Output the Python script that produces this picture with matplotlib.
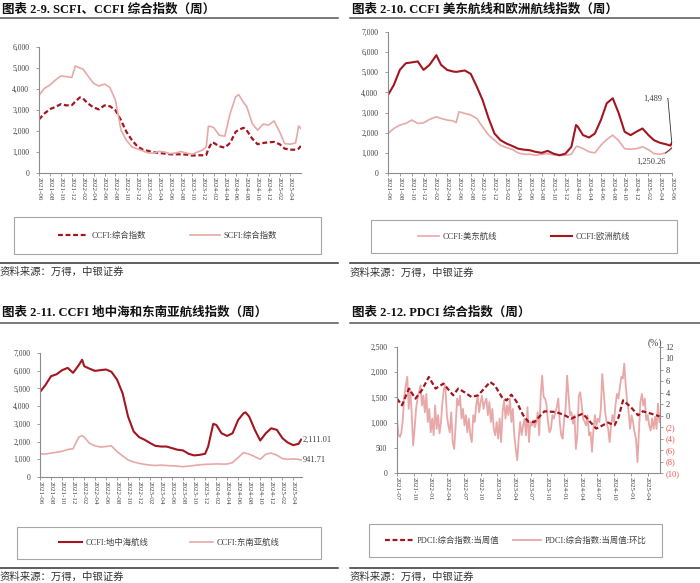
import matplotlib
matplotlib.use('Agg')
import matplotlib.pyplot as plt
import matplotlib.dates as mdates
from matplotlib.lines import Line2D
from matplotlib.patches import Rectangle
from matplotlib.ticker import FuncFormatter, MultipleLocator
import pandas as pd

# ---------------- data ----------------
# 2-9 SCFI / CCFI composite
p1_dates = ['2021-06-01', '2021-07-01', '2021-08-01', '2021-09-01', '2021-10-01', '2021-11-01',
            '2021-12-01', '2021-12-20', '2022-01-15', '2022-02-01', '2022-03-01', '2022-04-01',
            '2022-05-01', '2022-06-01', '2022-07-01', '2022-08-01', '2022-09-01', '2022-10-01',
            '2022-11-01', '2022-12-01', '2023-01-01', '2023-02-01', '2023-03-01', '2023-04-01',
            '2023-05-01', '2023-06-01', '2023-07-01', '2023-08-01', '2023-09-01', '2023-10-01',
            '2023-11-01', '2023-12-01', '2023-12-20', '2024-01-01', '2024-01-20', '2024-02-01',
            '2024-03-01', '2024-04-01', '2024-05-01', '2024-06-01', '2024-06-18', '2024-07-15',
            '2024-08-01', '2024-09-01', '2024-10-01', '2024-11-01', '2024-12-01', '2025-01-01',
            '2025-02-01', '2025-03-01', '2025-04-01', '2025-05-01', '2025-05-18', '2025-05-30']
p1_scfi = [3700, 4030, 4190, 4430, 4620, 4590, 4550, 5100, 5000, 4950, 4620, 4270,
           4140, 4235, 4075, 3470, 2040, 1560, 1240, 1150, 1050, 955, 950, 1030,
           1000, 920, 950, 1020, 950, 890, 1000, 1100, 1250, 2230, 2200, 2150,
           1800, 1750, 2830, 3630, 3730, 3350, 3180, 2360, 2040, 2330, 2280, 2480,
           1960, 1400, 1370, 1430, 2240, 2120]
p1_ccfi = [2550, 2830, 3040, 3150, 3280, 3220, 3230, 3400, 3600, 3550, 3310, 3120,
           3030, 3220, 3180, 2990, 2510, 1960, 1560, 1270, 1110, 1050, 990, 955,
           925, 890, 890, 890, 875, 830, 845, 845, 860, 1150, 1450, 1430,
           1270, 1210, 1430, 1960, 2060, 2150, 2040, 1640, 1370, 1430, 1460, 1480,
           1370, 1160, 1110, 1110, 1160, 1290]

# 2-10 CCFI US East coast / Europe
p2_dates = ['2021-06-01', '2021-07-01', '2021-08-01', '2021-09-01', '2021-10-01', '2021-11-01',
            '2021-12-01', '2022-01-01', '2022-02-05', '2022-03-01', '2022-04-01', '2022-05-01',
            '2022-05-18', '2022-06-01', '2022-07-01', '2022-08-01', '2022-09-01', '2022-10-01',
            '2022-11-01', '2022-12-01', '2023-01-01', '2023-02-01', '2023-03-01', '2023-04-01',
            '2023-05-01', '2023-06-01', '2023-07-01', '2023-08-01', '2023-09-01', '2023-10-01',
            '2023-11-01', '2023-12-01', '2024-01-01', '2024-01-25', '2024-02-01', '2024-03-01',
            '2024-04-01', '2024-05-01', '2024-06-01', '2024-07-01', '2024-08-01', '2024-09-01',
            '2024-10-01', '2024-11-01', '2024-12-01', '2025-01-01', '2025-02-01', '2025-03-01',
            '2025-04-01', '2025-05-01', '2025-05-25', '2025-06-01']
p2_europe = [3870, 4370, 5120, 5450, 5490, 5540, 5120, 5370, 5850, 5370, 5120, 5040,
             5020, 5040, 5090, 4920, 4290, 3620, 2710, 1960, 1630, 1460, 1350, 1210,
             1160, 1130, 1050, 1000, 1100, 960, 880, 960, 1300, 2380, 2330, 1880,
             1760, 1960, 2630, 3460, 3710, 2960, 2050, 1880, 2050, 2210, 1880, 1630,
             1500, 1430, 1360, 1489]
p2_useast = [1960, 2210, 2380, 2460, 2630, 2460, 2490, 2660, 2790, 2710, 2630, 2590,
             2500, 3040, 2960, 2880, 2710, 2290, 1880, 1630, 1380, 1260, 1180, 1000,
             930, 930, 880, 930, 960, 900, 880, 880, 930, 1300, 1330, 1210,
             1050, 1000, 1380, 1660, 1880, 1600, 1210, 1180, 1210, 1300, 1160, 960,
             930, 1000, 1150, 1250.26]

# 2-11 CCFI Mediterranean / South-East Asia
p3_dates = ['2021-06-01', '2021-07-01', '2021-08-01', '2021-09-01', '2021-10-01', '2021-11-01',
            '2021-12-01', '2022-01-01', '2022-01-20', '2022-02-01', '2022-03-01', '2022-04-01',
            '2022-05-01', '2022-06-01', '2022-07-01', '2022-08-01', '2022-09-01', '2022-10-01',
            '2022-11-01', '2022-12-01', '2023-01-01', '2023-02-01', '2023-03-01', '2023-04-01',
            '2023-05-01', '2023-06-01', '2023-07-01', '2023-08-01', '2023-09-01', '2023-10-01',
            '2023-11-01', '2023-12-01', '2023-12-18', '2024-01-15', '2024-02-01', '2024-03-01',
            '2024-04-01', '2024-05-01', '2024-06-01', '2024-07-01', '2024-07-12', '2024-08-01',
            '2024-09-01', '2024-10-01', '2024-11-01', '2024-12-01', '2025-01-01', '2025-02-01',
            '2025-03-01', '2025-04-01', '2025-05-01', '2025-05-15']
p3_med = [4800, 5190, 5690, 5800, 6030, 6160, 5880, 6310, 6620, 6250, 6120, 5990,
          6030, 6070, 5940, 5500, 4720, 3410, 2570, 2250, 2100, 1910, 1760, 1720,
          1720, 1630, 1540, 1500, 1310, 1220, 1250, 1310, 1720, 3000, 2940, 2470,
          2320, 2470, 3220, 3600, 3650, 3410, 2660, 2060, 2470, 2750, 2660, 2190,
          1950, 1800, 1870, 2111.01]
p3_sea = [1300, 1300, 1350, 1400, 1450, 1550, 1600, 2250, 2330, 2250, 1910, 1760,
          1690, 1720, 1760, 1440, 1190, 960, 850, 770, 710, 670, 650, 670,
          650, 630, 615, 580, 615, 650, 690, 710, 720, 730, 740, 730,
          730, 810, 1100, 1380, 1350, 1290, 1150, 1000, 1290, 1350, 1230, 1040,
          1000, 1020, 1000, 941.71]

# 2-12 PDCI composite (left) and its week-on-week change in % (right)
p4_dates = ['2021-07-01', '2021-07-28', '2021-09-04', '2021-10-10', '2021-11-15', '2021-12-22',
            '2022-01-28', '2022-03-12', '2022-05-04', '2022-06-01', '2022-07-06', '2022-08-12',
            '2022-09-18', '2022-11-22', '2022-12-18', '2023-01-25', '2023-02-20', '2023-03-18',
            '2023-04-15', '2023-05-22', '2023-06-18', '2023-07-22', '2023-09-15', '2023-11-18',
            '2024-01-01', '2024-02-08', '2024-04-12', '2024-06-24', '2024-08-28', '2024-10-02',
            '2024-10-24', '2024-11-18', '2024-12-30', '2025-02-08', '2025-03-06', '2025-04-20',
            '2025-06-05']
p4_pdci = [1476, 1343, 1675, 1476, 1650, 1905, 1675, 1774, 1542, 1675, 1600, 1508,
           1542, 1806, 1740, 1508, 1440, 1555, 1420, 1145, 1020, 1012, 1224, 1210,
           1150, 1079, 1178, 881, 1000, 946, 1100, 1442, 1310, 1145, 1224, 1178,
           1125]
p4_wow_start, p4_wow_end = '2021-07-01', '2025-06-05'
p4_wow = [-0.5, -3.4, -3.7, -2.9, -0.5, 3.5, 5.3, 6.8, 1.2, 4.7, 0.6, -5.2, -2.3, 1.2, 3.0,
          4.1, 5.3, 1.8, 3.5, 0.6, 3.8, -1.1, 1.2, -2.9, -0.5, -3.4, 1.8, -2.3, 0.1, -3.1,
          -1.1, 2.4, 4.7, 5.3, 0.1, -1.7, -2.9, 0.6, -4.6, -5.8, -1.7, 3.0, 1.8, 3.5, -0.5,
          1.2, -1.7, 0.1, -2.9, -0.5, -3.4, -4.6, 0.1, -1.1, 1.8, 3.5, 0.6, 2.4, 3.5, 1.2,
          2.4, 3.0, 0.1, 2.4, -1.1, 1.2, -2.3, -3.4, -1.1, -4.0, -0.5, -4.6, 0.6, 2.7, -0.5,
          1.8, 0.1, 3.0, -1.1, 1.2, -3.4, -5.8, -7.8, -4.0, -1.1, -3.4, -1.7, -0.5, -3.4, 1.5,
          -4.6,
          -1.1, -1.7, -0.8, -2.0, -1.1, 0.6, -3.4, 3.5, 7.0, 3.3, 3.0, 1.8, -1.1, -2.9, -2.3,
          0.1, -0.5, 0.6, 1.5, 3.0, -1.1, -3.4, -4.0, -0.5, 1.2, 7.0, 3.5, 0.1, 0.6, -1.4,
          0.1, -5.8, -3.4, 3.5, 4.1, 1.8, -0.5, -1.1, -1.7, 0.1, -3.4, -2.9, -6.3, -2.3, 0.1,
          -1.7, -0.5, -1.1, 1.2, 7.3, 4.1, 0.6, -1.1, -2.3, -4.6, -1.7, 0.1, -1.1, 1.8, 3.8,
          3.0, 5.0, 6.8, 6.5, 9.1, 5.3, 2.4, 0.6, -2.3, 0.1, -1.1, -2.9, -4.0, -8.1, -2.9,
          2.4, 3.8, 1.8, 3.0, -0.8, 0.1, -1.7, -2.6, -0.5, -2.3, -0.2, -2.3, 2.1, -1.1]
p4_right_ticks = list(range(-10, 13, 2))

# ---------------- style ----------------
DARK = '#a3161f'
LIGHT = '#e8a8a8'
AXC = '#8c8c8c'
TXT = '#404040'
SERIF = ['Liberation Serif', 'Noto Sans CJK SC']
plt.rcParams['font.family'] = SERIF

W, H = 700, 583
fig = plt.figure(figsize=(7, 5.83), dpi=100)


def box(l, t, r, b):
    return [l / W, 1 - b / H, (r - l) / W, (b - t) / H]


def fx(x):
    return x / W


def fy(y):
    return 1 - y / H


def style(ax, ymax, step, start, end, months):
    ax.set_ylim(0, ymax)
    ax.yaxis.set_major_locator(MultipleLocator(step))
    ax.yaxis.set_major_formatter(FuncFormatter(lambda v, p: f'{v:,.0f}'))
    ax.set_xlim(pd.Timestamp(start), pd.Timestamp(end))
    ax.xaxis.set_major_locator(mdates.MonthLocator(bymonth=months))
    ax.xaxis.set_major_formatter(mdates.DateFormatter('%Y-%m'))
    for s in ['top', 'right']:
        ax.spines[s].set_visible(False)
    for s in ['left', 'bottom']:
        ax.spines[s].set_color(AXC)
        ax.spines[s].set_linewidth(0.8)
    ax.tick_params(axis='x', labelrotation=270, labelsize=5, length=2, width=0.6,
                   color=AXC, pad=1, labelcolor=TXT)
    ax.tick_params(axis='y', labelsize=5.5, length=2, width=0.6, color=AXC, pad=5,
                   labelcolor=TXT)
    ax.patch.set_alpha(0)


def frame(x0, x1, title, y_title, y_rule, y_bottom, y_source):
    fig.text(fx(x0 + 2), fy(y_title), title, fontsize=9, fontweight='bold',
             ha='left', va='center', color='#111111')
    fig.add_artist(Line2D([fx(x0), fx(x1)], [fy(y_rule)] * 2, transform=fig.transFigure,
                          color='#555555', lw=1.1))
    fig.add_artist(Line2D([fx(x0), fx(x1)], [fy(y_bottom)] * 2, transform=fig.transFigure,
                          color='#333333', lw=1.1))
    fig.text(fx(x0), fy(y_source), '资料来源：万得，中银证券', fontsize=7.5,
             family=['Noto Sans CJK SC', 'DejaVu Sans'], ha='left', va='center',
             color='#333333')


def legend_box(l, t, r, b, handles, labels, hl, cs):
    fig.add_artist(Rectangle((fx(l), fy(b)), (r - l) / W, (b - t) / H,
                             transform=fig.transFigure, fill=False, ec='#a6a6a6', lw=0.8))
    fig.legend(handles, labels, loc='center', bbox_to_anchor=(fx((l + r) / 2), fy((t + b) / 2)),
               ncol=2, frameon=False, fontsize=6, handlelength=hl, columnspacing=cs,
               handletextpad=0.4, labelcolor=TXT)


even = (2, 4, 6, 8, 10, 12)

# ---------------- 2-9 ----------------
ax1 = fig.add_axes(box(39, 47, 301, 173))
d1 = pd.to_datetime(p1_dates)
l1a, = ax1.plot(d1, p1_ccfi, color=DARK, lw=1.6, ls='--', dashes=(2.2, 1.2))
l1b, = ax1.plot(d1, p1_scfi, color=LIGHT, lw=1.2)
style(ax1, 6000, 1000, '2021-06-01', '2025-05-31', even)
frame(0, 338, '图表 2-9. SCFI、CCFI 综合指数（周）', 10, 18, 263, 272)
legend_box(14, 217, 321, 254, [l1a, l1b], ['CCFI:综合指数', 'SCFI:综合指数'], 3.6, 5.3)

# ---------------- 2-10 ----------------
ax2 = fig.add_axes(box(388, 32, 672, 173))
d2 = pd.to_datetime(p2_dates)
l2a, = ax2.plot(d2, p2_useast, color=LIGHT, lw=1.2)
l2b, = ax2.plot(d2, p2_europe, color=DARK, lw=1.5)
style(ax2, 7000, 1000, '2021-06-01', '2025-06-02', even)
ax2.annotate(f'{p2_europe[-1]:,.0f}', xy=(d2[-1], p2_europe[-1]), xytext=(-14, 32),
             textcoords='offset points', ha='center', va='center', fontsize=6, color=TXT,
             arrowprops=dict(arrowstyle='-', color='#333333', lw=0.6, shrinkB=0,
                             connectionstyle='angle,angleA=0,angleB=95,rad=0'))
ax2.annotate(f'{p2_useast[-1]:,.2f}', xy=(d2[-1], p2_useast[-1]), xytext=(-15, -10),
             textcoords='offset points', ha='center', va='center', fontsize=6, color=TXT,
             arrowprops=dict(arrowstyle='-', color='#333333', lw=0.6, shrinkB=0,
                             relpos=(0.8, 1.0)))
frame(350, 700, '图表 2-10. CCFI 美东航线和欧洲航线指数（周）', 10, 18, 263, 273)
legend_box(371, 220, 677, 253, [l2a, l2b], ['CCFI:美东航线', 'CCFI:欧洲航线'], 2.5, 6.5)

# ---------------- 2-11 ----------------
ax3 = fig.add_axes(box(40, 353, 302, 477))
d3 = pd.to_datetime(p3_dates)
l3a, = ax3.plot(d3, p3_med, color=DARK, lw=1.5)
l3b, = ax3.plot(d3, p3_sea, color=LIGHT, lw=1.2)
style(ax3, 7000, 1000, '2021-06-01', '2025-05-20', even)
for vals in (p3_med, p3_sea):
    ax3.annotate(f'{vals[-1]:,.2f}', xy=(d3[-1], vals[-1]), xytext=(1, 0),
                 textcoords='offset points', ha='left', va='center', fontsize=6,
                 color=TXT, annotation_clip=False)
frame(0, 338, '图表 2-11. CCFI 地中海和东南亚航线指数（周）', 313, 323, 568, 577)
legend_box(17, 527, 321, 559, [l3a, l3b], ['CCFI:地中海航线', 'CCFI:东南亚航线'], 2.8, 5.0)

# ---------------- 2-12 ----------------
ax4 = fig.add_axes(box(397, 347, 660, 473))
ax4r = ax4.twinx()
d4 = pd.to_datetime(p4_dates)
d4w = pd.date_range(p4_wow_start, p4_wow_end, periods=len(p4_wow))
l4b, = ax4r.plot(d4w, p4_wow, color=LIGHT, lw=1.3)
l4a, = ax4.plot(d4, p4_pdci, color=DARK, lw=1.6, ls='--', dashes=(2.2, 1.2))
style(ax4, 2500, 500, '2021-07-01', '2025-06-08', (1, 4, 7, 10))
ax4.set_zorder(ax4r.get_zorder() + 1)
ax4.patch.set_visible(False)
ax4r.set_ylim(-10, 12)
ax4r.set_yticks(p4_right_ticks)
ax4r.set_yticklabels([f'({-v})' if v < 0 else f'{v}' for v in p4_right_ticks])
for v, lab in zip(p4_right_ticks, ax4r.get_yticklabels()):
    lab.set_color('#e8554e' if v < 0 else TXT)
for s in ['top', 'left', 'bottom']:
    ax4r.spines[s].set_visible(False)
ax4r.spines['right'].set_color(AXC)
ax4r.spines['right'].set_linewidth(0.8)
ax4r.tick_params(axis='y', labelsize=6, length=2, width=0.6, color=AXC, pad=2)
fig.text(fx(655), fy(343), '(%)', fontsize=7, ha='center', va='center', color=TXT)
frame(350, 700, '图表 2-12. PDCI 综合指数（周）', 313, 323, 568, 577)
legend_box(369, 524, 662, 557, [l4a, l4b], ['PDCI:综合指数:当周值', 'PDCI:综合指数:当周值:环比'],
           3.4, 1.6)

fig.savefig('out.png', dpi=100)
